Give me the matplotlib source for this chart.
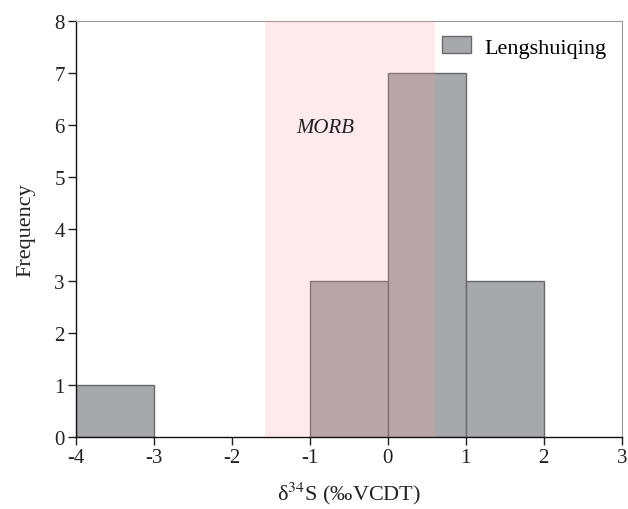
import matplotlib
matplotlib.use("Agg")
import matplotlib.pyplot as plt

plt.rcParams['font.family'] = ['Liberation Serif', 'DejaVu Serif']
plt.rcParams['mathtext.fontset'] = 'stix'
plt.rcParams['axes.unicode_minus'] = False

# histogram of d34S values, bin edges and counts
bin_left = [-4, -1, 0, 1]
counts = [1, 3, 7, 3]
bin_width = 1
morb_range = (-1.57, 0.6)

fig = plt.figure(figsize=(6.28, 5.10), dpi=100)
ax = fig.add_axes([0.121, 0.141, 0.869, 0.816])

ax.bar(bin_left, counts, width=bin_width, align='edge', color='#a7a8ab',
       edgecolor='#6a6a6a', linewidth=1.0, label='Lengshuiqing', zorder=2)
ax.axvspan(*morb_range, color='#fa9aa0', alpha=0.2, lw=0, zorder=3)
ax.text(-0.8, 5.95, 'MORB', style='italic', fontsize=15, ha='center', va='center',
        color='#222222')

ax.set_xlim(-4, 3)
ax.set_ylim(0, 8)
ax.set_xticks(range(-4, 4))
ax.set_yticks(range(0, 9))
ax.tick_params(direction='out', length=6, width=1, labelsize=15, colors='#222222',
               pad=2)
for s in ['left', 'bottom']:
    ax.spines[s].set_color('#111111')
    ax.spines[s].set_linewidth(1.0)
for s in ['top', 'right']:
    ax.spines[s].set_color('#999999')
    ax.spines[s].set_linewidth(0.8)

ax.set_ylabel('Frequency', fontsize=16, labelpad=14, color='#222222')
ax.set_xlabel(r'δ$^{\mathrm{34}}$S (‰VCDT)', fontsize=16, labelpad=9, color='#222222')
ax.legend(loc='upper right', frameon=False, fontsize=16, handlelength=1.3,
          handleheight=0.8, borderaxespad=0.3, handletextpad=0.6)

fig.savefig('out.png', dpi=100)
